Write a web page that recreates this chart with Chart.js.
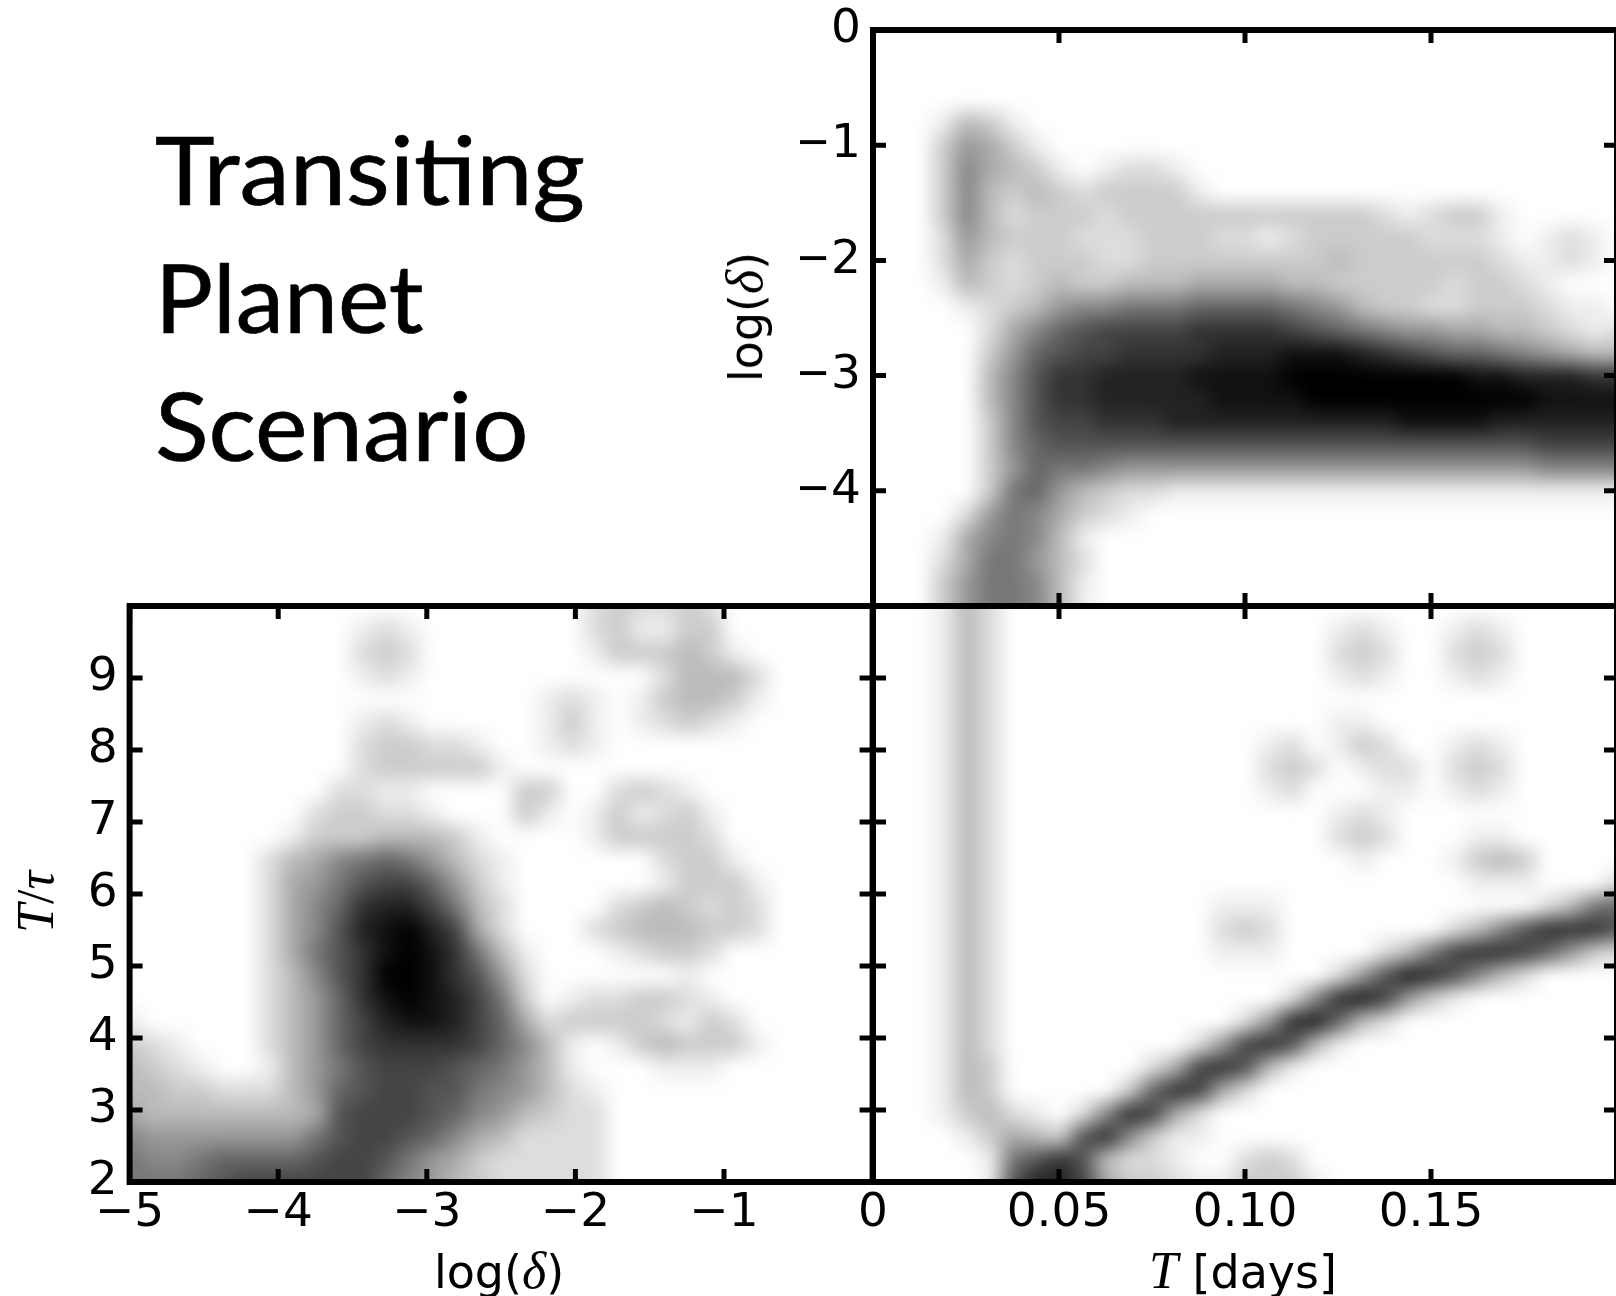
<!DOCTYPE html>
<html>
<head>
<meta charset="utf-8">
<title>Transiting Planet Scenario</title>
<script src="https://cdn.jsdelivr.net/npm/chart.js@4/dist/chart.umd.js"></script>
<style>
    html, body { margin: 0; padding: 0; background: #fff; overflow: hidden; width: 1616px; height: 1296px; }
    canvas { position: absolute; filter: blur(0.6px); }
    .label { position: absolute; white-space: nowrap; color: #000; font-family: "DejaVu Sans", sans-serif; font-size: 46px; line-height: 1; filter: blur(0.5px); }
    .math { font-family: "Liberation Serif", serif; font-style: italic; font-size: 52px; }
    .rot { transform: translate(-50%, -50%) rotate(-90deg); }
    .flat { transform: translate(-50%, -50%); }
    #scenario { position: absolute; left: 155px; top: 0; font-family: Lato, sans-serif; font-size: 95px; color: #000; -webkit-text-stroke: 0.7px #000; }
    #scenario div { position: absolute; left: 0; white-space: nowrap; line-height: 1; transform-origin: left center; }
</style>
</head>
<body>
<canvas id="tauDelta" width="890" height="706" style="left:0;top:590px"></canvas>
<canvas id="deltaDays" width="830" height="640" style="left:800px;top:0"></canvas>
<canvas id="tauDays" width="830" height="706" style="left:800px;top:590px"></canvas>

<div id="scenario">
    <div style="top:121px;transform:scaleX(1.063)">Transiting</div>
    <div style="top:249px;left:0;transform:scaleX(1.02)">Planet</div>
    <div style="top:377px;left:0;transform:scaleX(1.045)">Scenario</div>
</div>
<div class="label flat" style="left:499px;top:1271px">log(<span class="math">δ</span>)</div>
<div class="label flat" style="left:1243px;top:1271px"><span class="math">T</span> [days]</div>
<div class="label rot" style="left:745px;top:317px">log(<span class="math">δ</span>)</div>
<div class="label rot" style="left:36px;top:902px"><span class="math">T</span><span class="math" style="font-style:normal">/</span><span class="math">τ</span></div>

<script>
// tick positions and labels
const deltaTicks = [-5, -4, -3, -2, -1];
const deltaTickLabels = ['−5', '−4', '−3', '−2', '−1'];
const deltaUpTicks = [0, -1, -2, -3, -4];
const deltaUpTickLabels = ['0', '−1', '−2', '−3', '−4'];
const dayTicks = [0, 0.05, 0.10, 0.15];
const dayTickLabels = ['0', '0.05', '0.10', '0.15'];
const tauTicks = [2, 3, 4, 5, 6, 7, 8, 9];
const tauTickLabels = ['2', '3', '4', '5', '6', '7', '8', '9'];

// grid nodes of the density images
const dayNodes = Array.from({ length: 33 }, (_, i) => i * 0.00625);
const deltaNodes = Array.from({ length: 33 }, (_, i) => -5 + i * 0.15625);
const deltaRowNodes = Array.from({ length: 26 }, (_, i) => -i * 0.2);
const tauRowNodes = Array.from({ length: 26 }, (_, i) => 10 - i * 0.32);

// darkness, 0 = white, f = black, one char per node, grouped by 8
const deltaDaysRows = [
    '',
    '',
    '',
    '',
    '00014310',
    '00036531',
    '00037543 10122100',
    '00037434 32333310',
    '00037423 33233333 33333321 23310000',
    '00026433 32223332 21233333 22210121',
    '00025323 33223333 33334333 33321121',
    '00014323 43344455 55443333 32332100',
    '00001234 67788899 99876433 22333211 0',
    '00000257 9abbbbcc ccba9876 65544321 2',
    '00000369 abbccccd ddeeedcb a9987654 4',
    '0000047a ccddddee eeffffff ffeedddc c',
    '0000047a ccddddde eeefffff fffffeee e',
    '0000037a bbcccddd ddddddde eeeddddd d',
    '00000379 aaaaaaaa aaaaaaaa aaaaabbb b',
    '00000369 88766666 66666666 66666777 7',
    '00000389 64322111 11111111 11111111 1',
    '00002687 5321',
    '00015787 41',
    '00025886 42',
    '00036887 41',
    '00036887 41'
];

const tauDaysRows = [
    '00014200',
    '00014200 00000000 00001210 01210000',
    '00014200 00000000 00002320 02320000',
    '00014200 00000000 00001210 01210000',
    '00014200',
    '00014200 00000000 00001100',
    '00014200 00000000 01201320 01210000',
    '00014200 00000000 02320122 02320000',
    '00014200 00000000 01200011 01210000',
    '00014200 00000000 00001210',
    '00014200 00000000 00002320 00110000',
    '00014200 00000000 00000100 01343000',
    '00014200 00000000 00000000 00111000 2',
    '00014200 00000001 11000000 00000248 9',
    '00014200 00000002 32000000 0247accc a',
    '00014200 00000001 11000024 8bccb963 2',
    '00014200 00000000 000026ad ca742000',
    '00014200 00000000 0027cdb6 31000000',
    '00014200 00000000 26cd9420',
    '00014200 00000026 bca41000',
    '00014300 000025bc a4100000',
    '00014300 00039cb5 2',
    '00013421 027cb520',
    '00001354 3ac73110',
    '0000018a ca422100 23200000',
    '000001ad db533211 33310000'
];

const tauDeltaRows = [
    '00000000 00000000 00002322 32',
    '00000000 00121000 00002311 33',
    '00000000 00232000 00001333 431',
    '00000000 00121000 00000002 4442',
    '00000000 00000000 00121013 4431',
    '00000000 00121000 00131012 321',
    '00000000 00233221 00121000',
    '00000000 00233333 1',
    '00000000 02211000 03300232 1',
    '00000000 23322100 03101312 31',
    '00000001 33344431 00001333 32',
    '00000024 57898642 10000002 331',
    '00000025 68abb963 10000001 3331',
    '00000025 79cddb84 20000234 3232',
    '00000025 7adefdb5 20002344 4332',
    '00000025 8acefec8 41000123 32',
    '00000024 7acffeca 62000000 1',
    '00000024 69cefedb 83012233 21',
    '10000024 69bdeedb 95233332 132',
    '32100024 69bccccb 97410134 3331',
    '43210014 68abbba9 86410001 11',
    '44332224 69abbaa8 76421',
    '54444444 5abbba97 64322',
    '76666666 8abba975 42222',
    '87789999 abba8653 22222',
    '8889abbb bbb97643 22222'
];

// turn the hex rows into x/y/v points
function gridPoints(cols, rows, hexRows) {
    const points = [];
    rows.forEach((y, r) => {
        const row = hexRows[r].replace(/ /g, '');
        cols.forEach((x, c) => {
            points.push({ x: x, y: y, v: c < row.length ? parseInt(row[c], 16) : 0 });
        });
    });
    return points;
}

// paints the dataset's points as one smoothed grey image, placed through the scales
const densityPlugin = {
    id: 'density',
    beforeDatasetsDraw(chart) {
        const ds = chart.data.datasets[0];
        const nx = ds.cols.length;
        const ny = ds.rows.length;
        const off = document.createElement('canvas');
        off.width = nx;
        off.height = ny;
        const octx = off.getContext('2d');
        const img = octx.createImageData(nx, ny);
        ds.data.forEach((p, i) => {
            const grey = 255 - p.v * 17;
            img.data[i * 4] = grey;
            img.data[i * 4 + 1] = grey;
            img.data[i * 4 + 2] = grey;
            img.data[i * 4 + 3] = 255;
        });
        octx.putImageData(img, 0, 0);

        const { ctx, chartArea, scales } = chart;
        const x0 = scales.x.getPixelForValue(ds.cols[0]);
        const x1 = scales.x.getPixelForValue(ds.cols[nx - 1]);
        const y0 = scales.y.getPixelForValue(ds.rows[0]);
        const y1 = scales.y.getPixelForValue(ds.rows[ny - 1]);
        const dx = (x1 - x0) / (nx - 1);
        const dy = (y1 - y0) / (ny - 1);

        ctx.save();
        ctx.beginPath();
        ctx.rect(chartArea.left, chartArea.top, chartArea.right - chartArea.left, chartArea.bottom - chartArea.top);
        ctx.clip();
        ctx.imageSmoothingEnabled = true;
        ctx.imageSmoothingQuality = 'low';
        ctx.filter = 'blur(6px)';
        ctx.drawImage(off, x0 - dx / 2, y0 - dy / 2, dx * nx, dy * ny);
        ctx.restore();
    }
};

// spines and inward ticks on all four sides
const framePlugin = {
    id: 'frame',
    afterDatasetsDraw(chart) {
        const { ctx, chartArea: a, scales } = chart;
        ctx.save();
        ctx.strokeStyle = '#000';
        ctx.lineWidth = 5;
        ctx.beginPath();
        scales.x.ticks.forEach(t => {
            const px = scales.x.getPixelForValue(t.value);
            ctx.moveTo(px, a.top);
            ctx.lineTo(px, a.top + 13);
            ctx.moveTo(px, a.bottom);
            ctx.lineTo(px, a.bottom - 13);
        });
        scales.y.ticks.forEach(t => {
            const py = scales.y.getPixelForValue(t.value);
            ctx.moveTo(a.left, py);
            ctx.lineTo(a.left + 13, py);
            ctx.moveTo(a.right, py);
            ctx.lineTo(a.right - 13, py);
        });
        ctx.stroke();
        ctx.lineWidth = 6;
        ctx.strokeRect(a.left, a.top, a.right - a.left, a.bottom - a.top);
        ctx.restore();
    }
};

function axis(min, max, ticks, labels, size, showLabels) {
    return {
        type: 'linear',
        min: min,
        max: max,
        grid: { display: false, drawTicks: false },
        border: { display: false },
        afterBuildTicks(scale) {
            scale.ticks = ticks.map(v => ({ value: v }));
        },
        afterFit(scale) {
            if (scale.isHorizontal()) {
                scale.height = size;
            } else {
                scale.width = size;
            }
            // labels may hang over the panel edge, keep the panel where it is
            scale.paddingTop = 0;
            scale.paddingBottom = 0;
            scale.paddingLeft = 0;
            scale.paddingRight = 0;
        },
        ticks: {
            display: showLabels,
            autoSkip: false,
            maxRotation: 0,
            minRotation: 0,
            padding: size === 114 ? 4 : 12,
            color: '#000',
            font: { family: '"DejaVu Sans"', size: 47 },
            callback: (value, index) => labels[index]
        }
    };
}

function densityChart(id, cols, rows, hexRows, xAxis, yAxis, padding) {
    new Chart(document.getElementById(id), {
        type: 'scatter',
        data: {
            datasets: [{
                data: gridPoints(cols, rows, hexRows),
                cols: cols,
                rows: rows,
                pointRadius: 0,
                pointHoverRadius: 0
            }]
        },
        options: {
            responsive: false,
            animation: false,
            events: [],
            layout: { padding: padding },
            plugins: { legend: { display: false }, tooltip: { enabled: false } },
            scales: { x: xAxis, y: yAxis }
        },
        plugins: [densityPlugin, framePlugin]
    });
}

densityChart('tauDelta', deltaNodes, tauRowNodes, tauDeltaRows,
    axis(-5, 0, deltaTicks, deltaTickLabels, 114, true),
    axis(2, 10, tauTicks, tauTickLabels, 129.6, true),
    { top: 16, right: 17.4 });

densityChart('deltaDays', dayNodes, deltaRowNodes, deltaDaysRows,
    axis(0, 0.2, dayTicks, dayTickLabels, 34, false),
    axis(-5, 0, deltaUpTicks, deltaUpTickLabels, 73, true),
    { top: 30, right: 13 });

densityChart('tauDays', dayNodes, tauRowNodes, tauDaysRows,
    axis(0, 0.2, dayTicks, dayTickLabels, 114, true),
    axis(2, 10, tauTicks, tauTickLabels, 73, false),
    { top: 16, right: 13 });
</script>
</body>
</html>
